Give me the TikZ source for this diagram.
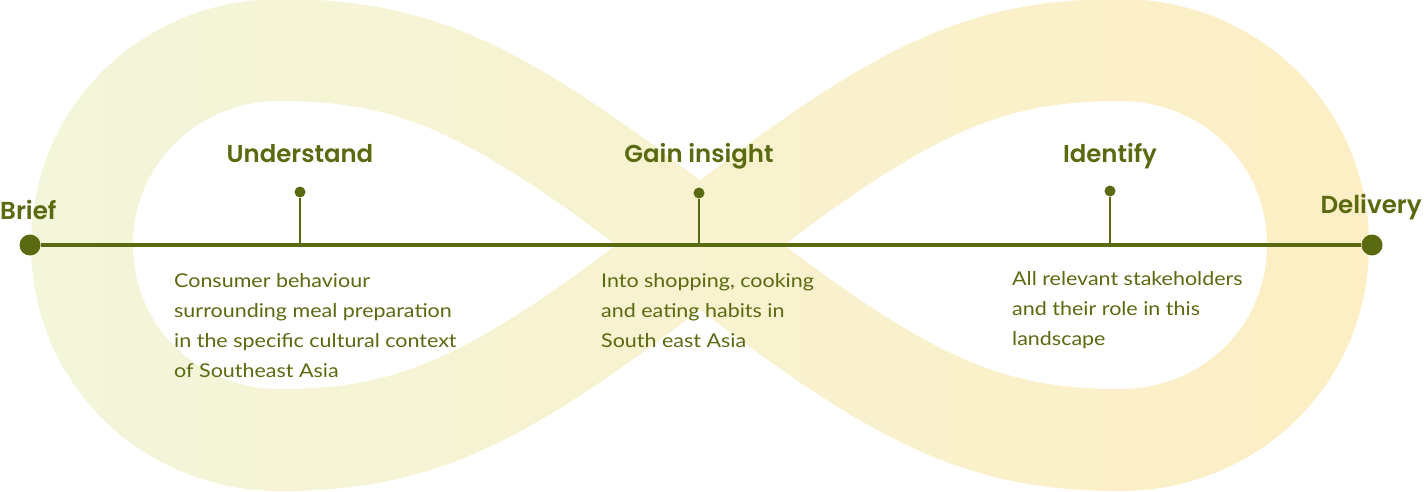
\documentclass[tikz,border=0pt]{standalone}
\usepackage{fontspec}
\newfontfamily\headfont{Poppins}[UprightFont={* SemiBold}]
\newfontfamily\bodyfont{Lato}[FakeStretch=1.13]
\definecolor{tlgreen}{RGB}{90,106,16}
\definecolor{bandL}{RGB}{243,246,218}
\definecolor{bandR}{RGB}{253,238,196}
\tikzset{
  band/.style={line width=102pt},
  head/.style={font=\headfont\fontsize{24.4}{30}\selectfont, text=tlgreen, inner sep=0pt},
  endhead/.style={font=\headfont\fontsize{24.6}{30}\selectfont, text=tlgreen, inner sep=0pt},
  body/.style={font=\bodyfont\fontsize{19}{30}\selectfont, text=tlgreen, inner sep=0pt, align=left, anchor=north west},
  enddot/.style={circle, fill=tlgreen, inner sep=0pt, minimum size=21pt},
  smalldot/.style={circle, fill=tlgreen, inner sep=0pt, minimum size=11pt},
  timeline/.style={draw=tlgreen, line width=4pt},
  tickline/.style={draw=tlgreen, line width=2pt},
}
\begin{document}
\begin{tikzpicture}[x=1pt,y=-1pt]
\useasboundingbox (0,0) rectangle (1424,492);
\path[save path=\bandp] (700,245) .. controls (503,91) and (420,50) .. (280,50)
  .. controls (170,50) and (82,135) .. (82,245)
  .. controls (82,355) and (170,440) .. (280,440)
  .. controls (420,440) and (503,399) .. (700,245)
  .. controls (897,91) and (980,50) .. (1120,50)
  .. controls (1230,50) and (1318,135) .. (1318,245)
  .. controls (1318,355) and (1230,440) .. (1120,440)
  .. controls (980,440) and (897,399) .. (700,245) -- cycle;
\foreach \i in {0,...,28}{
  \pgfmathsetmacro\pc{\i/28*100}
  \colorlet{bc}{bandR!\pc!bandL}
  \begin{scope}
    \clip (\i*50,-10) rectangle (\i*50+52,510);
    \draw[band, draw=bc, use path=\bandp];
  \end{scope}
}
% timeline
\node[enddot] (d0) at (30,245) {};
\node[enddot] (d1) at (1372,245) {};
\draw[timeline] (d0) -- (d1);
\node[smalldot] (p1) at (300,192) {};
\node[smalldot] (p2) at (699,193) {};
\node[smalldot] (p3) at (1110,191) {};
\coordinate (q1) at (300,245);
\coordinate (q2) at (699,245);
\coordinate (q3) at (1110,245);
\draw[tickline] (q1) -- (p1);
\draw[tickline] (q2) -- (p2);
\draw[tickline] (q3) -- (p3);
% headings
\node[endhead, anchor=base west] (brief) at (0,219) {Brief};
\node[endhead, anchor=base east] (delivery) at (1422,213) {Delivery};
\node[head, anchor=base] (understand) at (300,163) {Understand};
\node[head, anchor=base] (gain) at (699,163) {Gain insight};
\node[head, anchor=base] (identify) at (1110,163) {Identify};
% descriptions
\node[body] (t1) at (174,266) {\strut Consumer behaviour\\surrounding meal preparation\\in the specific cultural context\\of Southeast Asia};
\node[body] (t2) at (601,266) {\strut Into shopping, cooking\\and eating habits in\\South east Asia};
\node[body] (t3) at (1012,264) {\strut All relevant stakeholders\\and their role in this\\landscape};
\end{tikzpicture}
\end{document}
